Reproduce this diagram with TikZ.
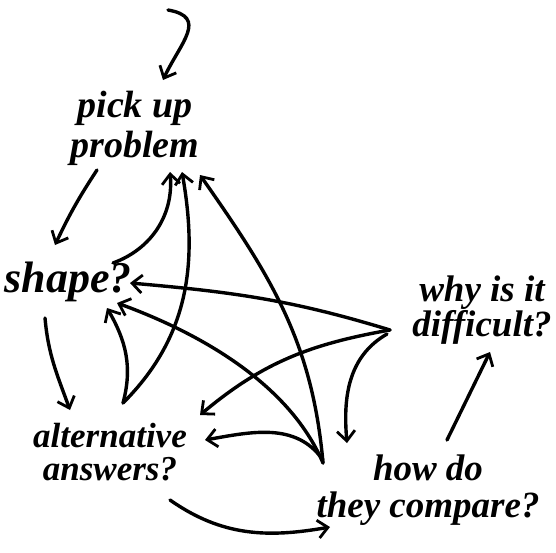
\documentclass[tikz,border=0pt]{standalone}
\usepackage{fontspec}
\setmainfont{Liberation Serif}
\usepackage{tikz}
\usetikzlibrary{arrows.meta,positioning,calc}
\begin{document}
\begin{tikzpicture}[
    x=1pt,y=1pt,
    lbl/.style 2 args={font=\fontsize{#1}{#2}\selectfont\bfseries\itshape,align=center,inner sep=2pt},
    arr/.style={line width=3.4pt,line cap=round,-{Straight Barb[length=10pt,width=18pt,line width=2.8pt]}},
  ]
  \useasboundingbox (0,0) rectangle (556,-552);
  % question nodes
  \node[lbl={38}{40}] (pick)  at (135,-128) {pick up\\problem};
  \node[lbl={44}{40}] (shape) at (68,-282)  {shape?};
  \node[lbl={35}{33}] (alt)   at (110,-452) {alternative\\answers?};
  \node[lbl={37}{35}] (why)   at (482,-310) {why is it\\difficult?};
  \node[lbl={37}{37}] (cmp)   at (428,-490) {how do\\they compare?};
  \coordinate (top) at (168,-10);

  \draw[arr] (top) to[out=-10,in=65,looseness=1.5] ([shift={(28,48)}]pick.center);
  \draw[arr] ([shift={(-38,-42)}]pick.center) to[bend right=4] ([shift={(-13,37)}]shape.center);
  \draw[arr] ([shift={(-23,-36)}]shape.center) to[out=-85,in=110] ([shift={(-40,42)}]alt.center);
  \draw[arr] ([shift={(13,49)}]alt.center) to[out=75,in=-60] ([shift={(39,-26)}]shape.center);
  \draw[arr] ([shift={(45,19)}]shape.center) to[out=20,in=-85] ([shift={(35,-44)}]pick.center);
  \draw[arr] ([shift={(13,49)}]alt.center) to[out=45,in=-80] ([shift={(47,-44)}]pick.center);
  \draw[arr] ([shift={(-105,27)}]cmp.center) to[out=95,in=-55] ([shift={(65,-47)}]pick.center);
  \draw[arr] ([shift={(-92,-20)}]why.center) to[out=163,in=-5] ([shift={(62,-1)}]shape.center);
  \draw[arr] ([shift={(-92,-20)}]why.center) to[out=190,in=40] ([shift={(90,37)}]alt.center);
  \draw[arr] ([shift={(-95,-24)}]why.center) to[out=210,in=95] ([shift={(-81,47)}]cmp.center);
  \draw[arr] ([shift={(19,50)}]cmp.center) -- ([shift={(8,-42)}]why.center);
  \draw[arr] ([shift={(-105,27)}]cmp.center) to[out=113,in=-20,looseness=0.85] ([shift={(49,-21)}]shape.center);
  \draw[arr] ([shift={(-105,30)}]cmp.center) to[out=125,in=10] ([shift={(95,12)}]alt.center);
  \draw[arr] ([shift={(60,-48)}]alt.center) to[out=-35,in=190] ([shift={(-98,-37)}]cmp.center);
\end{tikzpicture}
\end{document}
